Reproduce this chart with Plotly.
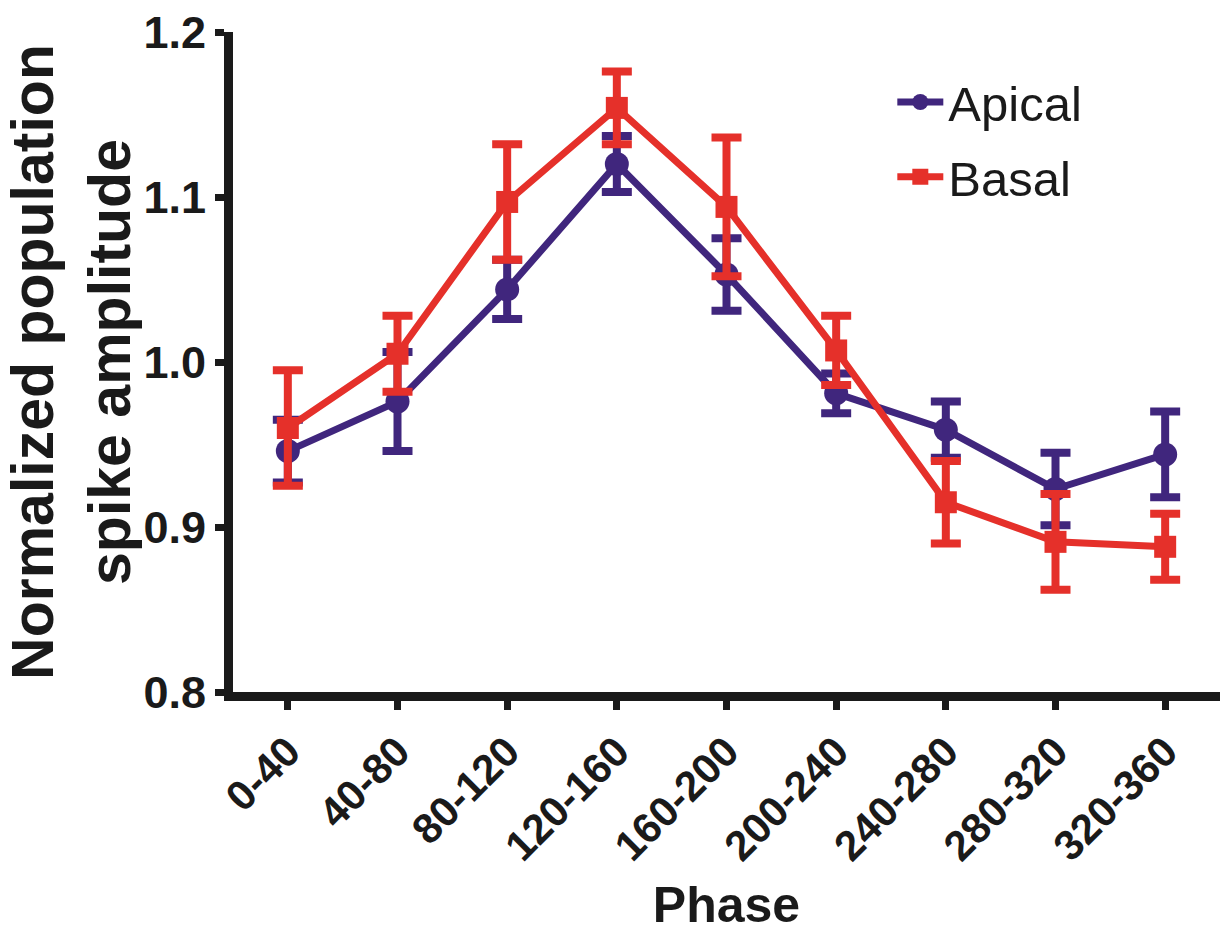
import plotly.graph_objects as go

phases = ["0-40", "40-80", "80-120", "120-160", "160-200", "200-240", "240-280", "280-320", "320-360"]
apical_mean = [0.946, 0.976, 1.044, 1.120, 1.053, 0.981, 0.959, 0.923, 0.944]
apical_err = [0.019, 0.030, 0.018, 0.017, 0.022, 0.012, 0.017, 0.022, 0.026]
basal_mean = [0.960, 1.005, 1.097, 1.154, 1.094, 1.007, 0.915, 0.891, 0.888]
basal_err = [0.035, 0.023, 0.035, 0.022, 0.042, 0.021, 0.025, 0.029, 0.020]
y_ticks = [0.8, 0.9, 1.0, 1.1, 1.2]

APICAL = "#40267D"
BASAL = "#E5302A"
AXC = "#1a1a1a"
FONT = "Liberation Sans"

fig = go.Figure()
fig.add_trace(go.Scatter(
    x=phases, y=apical_mean, name="Apical", mode="lines+markers", legendgroup="a",
    line=dict(color=APICAL, width=7),
    marker=dict(symbol="circle", size=24, color=APICAL),
    error_y=dict(type="data", array=apical_err, visible=True, color=APICAL, thickness=8, width=15),
))
fig.add_trace(go.Scatter(
    x=phases, y=basal_mean, name="Basal", mode="lines+markers", legendgroup="b",
    line=dict(color=BASAL, width=7),
    marker=dict(symbol="square", size=22, color=BASAL),
    error_y=dict(type="data", array=basal_err, visible=True, color=BASAL, thickness=8, width=15),
))

fig.update_layout(
    width=1226, height=946,
    margin=dict(l=233, r=6, t=32, b=254),
    paper_bgcolor="white", plot_bgcolor="white",
    font=dict(family=FONT, color=AXC),
    showlegend=True,
    legend=dict(
        x=0.668, y=0.952, xanchor="left", yanchor="top",
        font=dict(family=FONT, size=49, color=AXC),
        bgcolor="rgba(0,0,0,0)", itemwidth=46, tracegroupgap=8,
    ),
    xaxis=dict(
        type="category", range=[-0.5, 8.5],
        showline=True, linecolor=AXC, linewidth=9,
        ticks="outside", ticklen=9, tickwidth=7, tickcolor=AXC,
        tickangle=-45,
        tickfont=dict(family=FONT, size=42, color=AXC, weight="bold"),
        showgrid=False, zeroline=False,
        title=dict(text="Phase", font=dict(family=FONT, size=50, color=AXC, weight="bold"), standoff=22),
    ),
    yaxis=dict(
        range=[0.8, 1.2], tickvals=y_ticks, tickformat=".1f",
        showline=True, linecolor=AXC, linewidth=9,
        ticks="outside", ticklen=9, tickwidth=7, tickcolor=AXC,
        tickfont=dict(family=FONT, size=45, color=AXC, weight="bold"),
        showgrid=False, zeroline=False,
        title=dict(text="Normalized population<br>spike amplitude",
                   font=dict(family=FONT, size=59, color=AXC, weight="bold"), standoff=14),
    ),
)

fig.write_html("out.html")
